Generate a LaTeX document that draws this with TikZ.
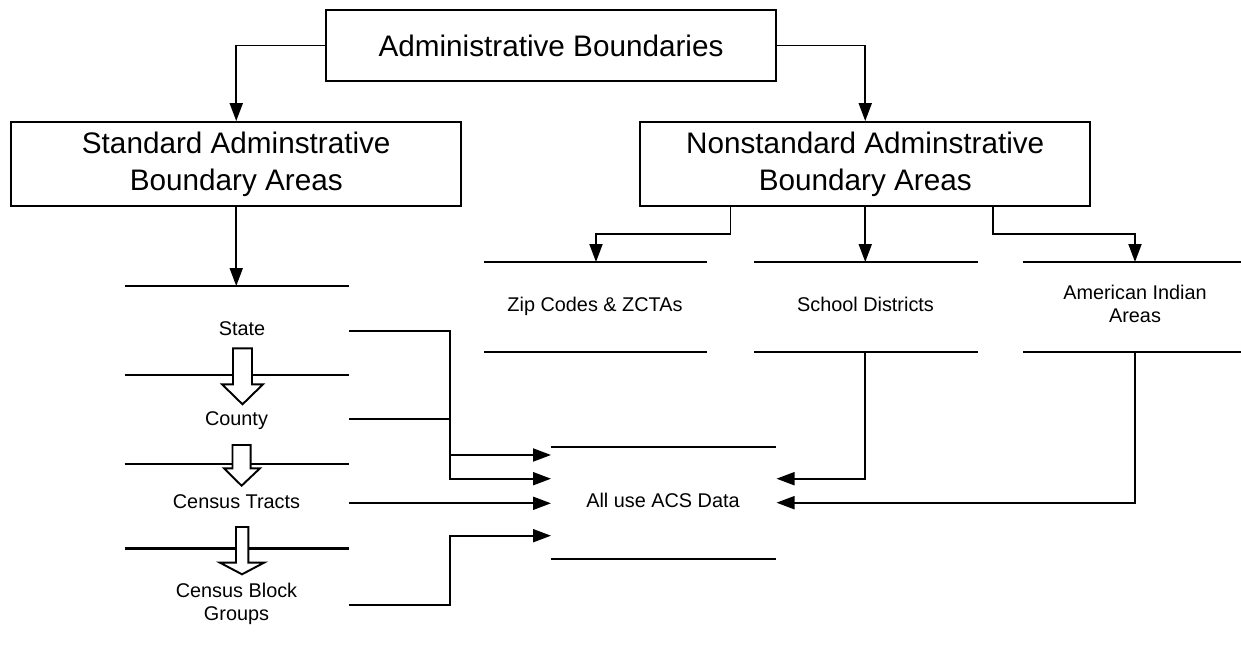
\documentclass[tikz,border=0pt]{standalone}
\usepackage{fontspec}
\setmainfont{Liberation Sans}
\usetikzlibrary{arrows.meta}
\begin{document}
\begin{tikzpicture}[x=0.02cm,y=-0.02cm]
		\tikzset{box/.style = {draw, line width=1.1pt, minimum width=9cm, align=center, font=\fontsize{16.9}{21}\selectfont}}
		\tikzset{item/.style = {align=center, font=\fontsize{11.3}{13.1}\selectfont}}
		\tikzset{rule/.style = {line width=1.1pt}}
		\tikzset{conn/.style = {line width=1.1pt, -{Triangle[length=0.36cm,width=0.26cm]}}}
		\tikzset{hollow/.style = {draw, fill=white, line width=1.1pt}}

		\useasboundingbox (0,0) rectangle (1241,659);

		\node[box, minimum height=1.42cm] (admin) at (551,45.5) {Administrative Boundaries};
		\node[box, minimum height=1.68cm] (std) at (236.25,164) {Standard Adminstrative\\Boundary Areas};
		\node[box, minimum height=1.68cm] (nonstd) at (865.25,164) {Nonstandard Adminstrative\\Boundary Areas};

		\draw[conn] (admin.west) -| (std.north);
		\draw[conn] (admin.east) -| (nonstd.north);

		\draw[rule] (124.5,286) -- (349,286);
		\draw[rule] (124.5,375.3) -- (349,375.3);
		\draw[rule] (124.5,464) -- (349,464);
		\draw[rule, line width=1.6pt] (124.5,548.7) -- (349,548.7);

		\draw[hollow] (233,348.3) -- (252,348.3) -- (252,384.3) -- (263,384.3) -- (242.5,404.3) -- (222,384.3) -- (233,384.3) -- cycle;
		\draw[hollow] (232.5,445) -- (250.7,445) -- (250.7,468.3) -- (260,468.3) -- (241.6,485.7) -- (224,468.3) -- (232.5,468.3) -- cycle;
		\draw[hollow] (236,527) -- (248.3,527) -- (248.3,562.7) -- (264,562.7) -- (242,574.3) -- (220,562.7) -- (236,562.7) -- cycle;

		\node[item, anchor=base] (state) at (242,335) {State};
		\node[item, anchor=base] (county) at (236.5,425) {County};
		\node[item, anchor=base] (tracts) at (236.5,508.3) {Census Tracts};
		\node[item] (groups) at (236.5,604) {Census Block\\Groups};

		\coordinate (stdin) at (236.25,286);
		\draw[conn] (std.south) -- (stdin);

		\draw[rule] (484,262) -- (707,262);
		\draw[rule] (754,262) -- (977.6,262);
		\draw[rule] (1023,262) -- (1241,262);
		\draw[rule] (484,352) -- (707,352);
		\draw[rule] (754,352) -- (977.6,352);
		\draw[rule] (1023,352) -- (1241,352);

		\node[item, anchor=base] (zip) at (595,311.7) {Zip Codes \& ZCTAs};
		\node[item, anchor=base] (school) at (865.5,311.7) {School Districts};
		\node[item] (indian) at (1135,304) {American Indian\\Areas};

		\coordinate (zipin) at (596,262);
		\coordinate (schoolin) at (865.25,262);
		\coordinate (indianin) at (1135,262);
		\draw[conn] (nonstd.south) ++(-134.75,0) -- ++(0,27) -| (zipin);
		\draw[conn] (nonstd.south) -- (schoolin);
		\draw[conn] (nonstd.south) ++(127.5,0) -- ++(0,27) -| (indianin);

		\draw[rule] (551,446.7) -- (775.5,446.7);
		\draw[rule] (551,559) -- (775.5,559);
		\node[item, anchor=base] (acs) at (663,507.3) {All use ACS Data};

		\coordinate (stateout) at (349,330.7);
		\coordinate (countyout) at (349,419);
		\coordinate (tractsout) at (349,503.3);
		\coordinate (groupsout) at (349,605);
		\coordinate (schoolout) at (865.3,352);
		\coordinate (indianout) at (1134.7,352);
		\coordinate (acs_1) at (551,455);
		\coordinate (acs_2) at (551,478.7);
		\coordinate (acs_3) at (551,503.3);
		\coordinate (acs_4) at (551,535.7);
		\coordinate (acs_5) at (776.5,478.7);
		\coordinate (acs_6) at (776.5,502.7);

		\draw[conn] (stateout) -- ++(101,0) |- (acs_2);
		\draw[conn] (countyout) -- ++(101,0) |- (acs_1);
		\draw[conn] (tractsout) -- (acs_3);
		\draw[conn] (groupsout) -- ++(101,0) |- (acs_4);
		\draw[conn] (schoolout) |- (acs_5);
		\draw[conn] (indianout) |- (acs_6);

	\end{tikzpicture}
\end{document}
